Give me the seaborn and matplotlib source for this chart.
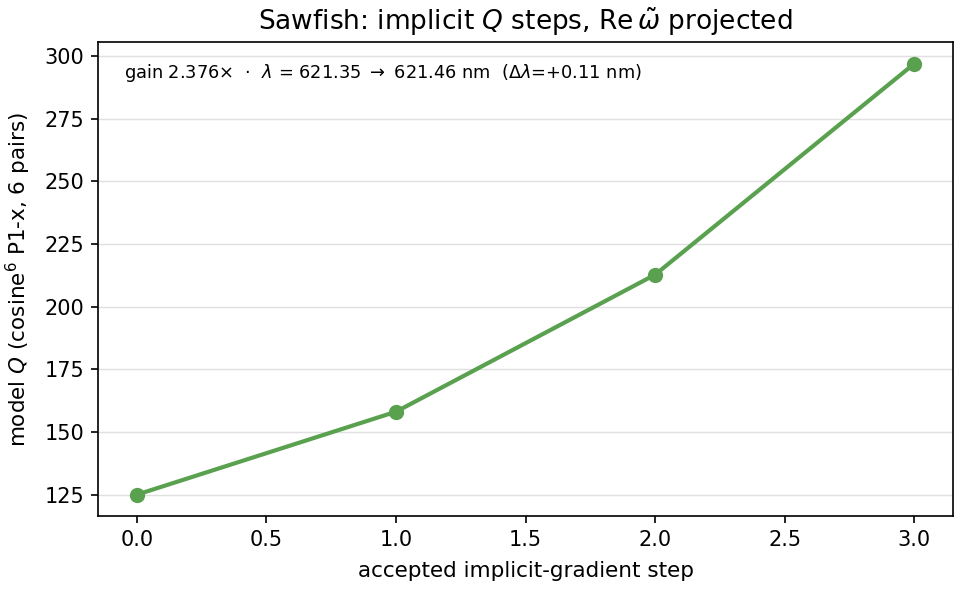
import matplotlib
matplotlib.use("Agg")
import matplotlib.pyplot as plt
import seaborn as sns
import pandas as pd

# accepted implicit-gradient steps and model Q
steps = [0, 1, 2, 3]
q_values = [125.0, 158.1, 212.8, 297.0]
annotation = r"gain 2.376$\times$  $\cdot$  $\lambda$ = 621.35 $\rightarrow$ 621.46 nm  ($\Delta\lambda$=+0.11 nm)"

sns.set_style("ticks")
plt.rcParams["font.family"] = ["DejaVu Sans"]
plt.rcParams.update({"text.color": "black", "axes.labelcolor": "black",
                     "xtick.color": "black", "ytick.color": "black"})

df = pd.DataFrame({"step": steps, "Q": q_values})

fig, ax = plt.subplots(figsize=(9.6, 5.92), dpi=100)
sns.lineplot(data=df, x="step", y="Q", ax=ax, color="#59a14f", lw=3,
             marker="o", markersize=11, markeredgewidth=0)
ax.grid(axis="y", color="#e0e0e0", lw=1)
ax.set_axisbelow(True)
for s in ax.spines.values():
    s.set_linewidth(1.2)
    s.set_color("black")
ax.tick_params(labelsize=15, length=5, width=1.2, pad=5)
ax.set_xlabel("accepted implicit-gradient step", fontsize=15.5, labelpad=8)
ax.set_ylabel(r"model $Q$ (cosine$^6$ P1-x, 6 pairs)", fontsize=15.5, labelpad=8)
ax.set_title(r"Sawfish: implicit $Q$ steps, Re$\,\tilde{\omega}$ projected",
             fontsize=19, pad=9)
ax.text(0.03, 0.935, annotation, transform=ax.transAxes, fontsize=12.8,
        va="center", ha="left")

fig.subplots_adjust(left=0.102, right=0.993, top=0.929, bottom=0.128)
fig.savefig("out.png", dpi=100)
